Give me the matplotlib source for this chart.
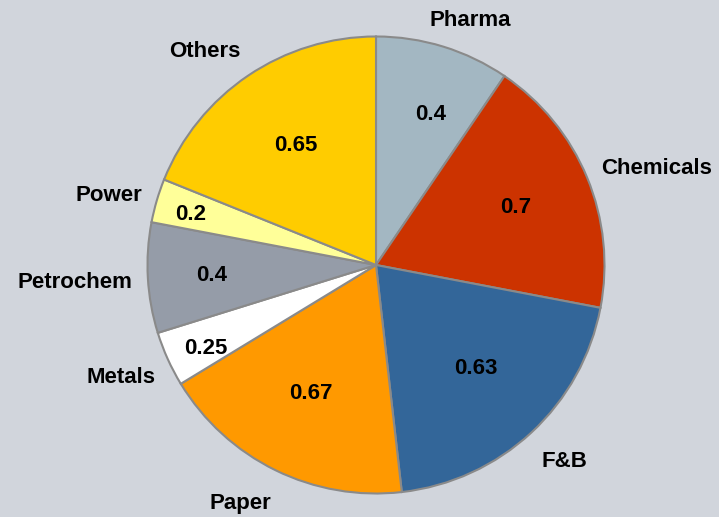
import numpy as np
import matplotlib.pyplot as plt

# data
categories = ["Pharma", "Chemicals", "F&B", "Paper", "Metals", "Petrochem", "Power", "Others"]
# slice sizes (percent of the circle) as drawn in the reference
slice_share = [9.5, 18.5, 20.2, 18.1, 3.9, 7.8, 3.1, 18.9]
# numbers printed on the slices
value_labels = ["0.4", "0.7", "0.63", "0.67", "0.25", "0.4", "0.2", "0.65"]

colors = ["#A3B7C2", "#CC3300", "#336699", "#FF9900", "#FFFFFF", "#959CA8", "#FFFF99", "#FFCC00"]

# label placement tweaks (degrees off the wedge middle, radius multiples)
inner_shift = [-3, 0, 1.3, -1, 1.7, 0.3, 1.1, -0.3]
inner_dist = [0.70, 0.66, 0.63, 0.63, 0.83, 0.72, 0.84, 0.63]
outer_shift = [-4, -3.5, 0.9, -3.6, -0.5, 0, 1.8, 4.7]
outer_dist = [1.145, 1.30, 1.19, 1.20, 1.22, 1.32, 1.21, 1.20]

bg = "#D1D5DC"
fig = plt.figure(figsize=(7.19, 5.17), dpi=100, facecolor=bg)
ax = fig.add_axes([0, 0, 1, 1])
ax.set_facecolor(bg)

cx, cy, R = 376, 517 - 265, 228.5
wedges, _ = ax.pie(slice_share, colors=colors, startangle=90, counterclock=False,
                   center=(cx, cy), radius=R,
                   wedgeprops=dict(edgecolor="#8A8A8A", linewidth=1.5))
# pie resets the limits, so put them back to pixel units
ax.set_xlim(0, 719)
ax.set_ylim(0, 517)
ax.set_aspect("equal")
ax.set_axis_off()

font = dict(family=["Liberation Sans", "DejaVu Sans"], fontweight="bold", fontsize=16, color="black")
for i, w in enumerate(wedges):
    mid = (w.theta1 + w.theta2) / 2
    a = np.deg2rad(mid + inner_shift[i])
    ax.text(cx + inner_dist[i] * R * np.cos(a), cy + inner_dist[i] * R * np.sin(a),
            value_labels[i], ha="center", va="center", **font)
    a = np.deg2rad(mid + outer_shift[i])
    ax.text(cx + outer_dist[i] * R * np.cos(a), cy + outer_dist[i] * R * np.sin(a),
            categories[i], ha="center", va="center", **font)

fig.savefig("out.png", dpi=100, facecolor=bg)
